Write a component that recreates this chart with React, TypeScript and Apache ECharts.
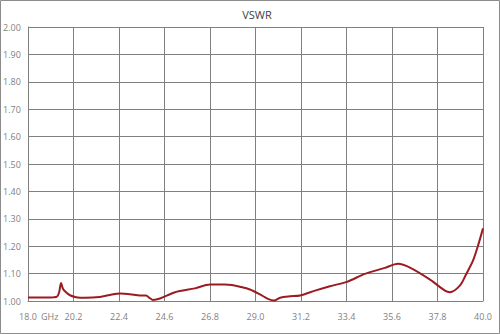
import React, { useEffect, useRef } from "react";
import * as echarts from "echarts";

const freqGHz = [
  18.0, 19.06, 19.4, 19.5, 19.6, 19.69, 19.84, 20.03, 20.32, 20.76, 21.48, 21.96, 22.45, 22.93,
  23.41, 23.7, 23.9, 24.04, 24.38, 25.11, 26.07, 26.8, 27.52, 27.86, 28.25, 28.73, 29.22, 29.6,
  29.89, 30.19, 30.67, 31.16, 31.88, 32.6, 33.42, 34.29, 35.26, 35.89, 36.47, 37.44, 38.16, 38.4,
  38.88, 39.18, 39.52, 39.81, 40.0,
];
const vswr = [
  1.013, 1.013, 1.016, 1.03, 1.066, 1.045, 1.032, 1.021, 1.014, 1.012, 1.015, 1.022, 1.027, 1.025,
  1.02, 1.02, 1.01, 1.004, 1.009, 1.032, 1.046, 1.06, 1.06, 1.058, 1.052, 1.042, 1.024, 1.008,
  1.002, 1.012, 1.017, 1.02, 1.038, 1.054, 1.07, 1.099, 1.121, 1.136, 1.122, 1.078, 1.038, 1.032,
  1.056, 1.097, 1.148, 1.215, 1.265,
];
const xStart = 18.0;
const xSpan = 22.0;
const xStep = 2.2;
const yMin = 1.0;
const yMax = 2.0;
const yStep = 0.1;

export default function App() {
  const ref = useRef<HTMLDivElement>(null);
  useEffect(() => {
    if (!ref.current) return;
    const chart = echarts.init(ref.current, null, { renderer: "svg" });
    const font = "'Open Sans', 'Noto Sans', sans-serif";
    chart.setOption({
      animation: false,
      backgroundColor: "#ffffff",
      title: {
        text: "VSWR",
        left: 252,
        top: 4,
        textAlign: "center",
        textStyle: { fontSize: 11, fontWeight: "normal", color: "#404040", fontFamily: font },
      },
      grid: { left: 28, right: 17, top: 27, bottom: 33, containLabel: false },
      xAxis: {
        type: "value",
        min: 0,
        max: xSpan,
        interval: xStep,
        axisLine: { show: true, lineStyle: { color: "#808080", width: 1 } },
        axisTick: { show: false },
        splitLine: { show: true, lineStyle: { color: "#808080", width: 1 } },
        axisLabel: {
          color: "#7f7f7f",
          fontSize: 9,
          fontFamily: font,
          margin: 11,
          showMinLabel: true,
          showMaxLabel: true,
          formatter: (v: number) => (v + xStart).toFixed(1),
        },
      },
      yAxis: {
        type: "value",
        min: yMin,
        max: yMax,
        interval: yStep,
        axisLine: { show: true, lineStyle: { color: "#808080", width: 1 } },
        axisTick: { show: false },
        splitLine: { show: true, lineStyle: { color: "#808080", width: 1 } },
        axisLabel: {
          color: "#7f7f7f",
          fontSize: 9,
          fontFamily: font,
          align: "left",
          margin: 25,
          formatter: (v: number) => v.toFixed(2),
        },
      },
      graphic: [
        {
          type: "rect",
          shape: { x: 0.5, y: 0.5, width: 499, height: 333 },
          style: { fill: "none", stroke: "#8c8c8c", lineWidth: 1 },
          silent: true,
        },
        {
          type: "text",
          left: 41,
          top: 312,
          style: { text: "GHz", fontSize: 9, fill: "#7f7f7f", fontFamily: font },
        },
      ],
      series: [
        {
          type: "line",
          data: freqGHz.map((f, i) => [f - xStart, vswr[i]]),
          smooth: 0.3,
          showSymbol: false,
          lineStyle: { color: "#9b1c20", width: 2 },
        },
      ],
    });
    return () => chart.dispose();
  }, []);
  return (
    <div
      ref={ref}
      style={{ position: "absolute", left: 0, top: 0, width: 500, height: 334 }}
    />
  );
}
